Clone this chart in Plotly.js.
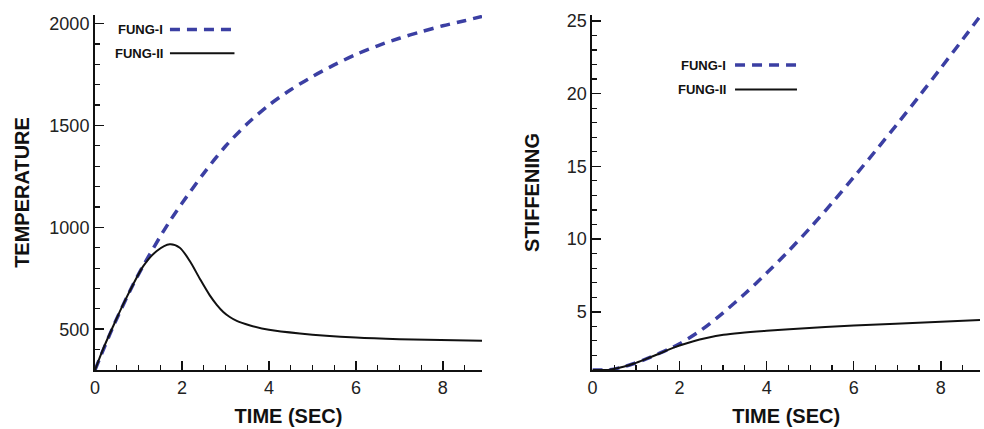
<!DOCTYPE html>
<html>
<head>
<meta charset="utf-8">
<script src="https://cdn.plot.ly/plotly-3.0.1.min.js"></script>
<style>html,body{margin:0;padding:0;background:#fff;}#chart{width:984px;height:429px;}</style>
</head>
<body>
<div id="chart"></div>
<script>
// ---- Data ----
const seriesNames = ["FUNG-I", "FUNG-II"];

// Left panel: TEMPERATURE vs TIME (SEC)
const tempTime1 = [0, 0.42, 0.88, 1.1, 1.26, 1.5, 1.75, 2.0, 2.5, 3.0, 3.5, 4.0, 4.5, 5.0, 5.5, 6.0, 6.5, 7.0, 7.5, 8.0, 8.5, 8.9];
const tempFung1 = [300, 514, 721, 808, 868, 955, 1040, 1118, 1265, 1398, 1508, 1600, 1675, 1740, 1797, 1848, 1891, 1928, 1960, 1989, 2014, 2035];
const tempTime2 = [0, 0.19, 0.42, 0.65, 0.88, 1.11, 1.42, 1.72, 1.95, 2.18, 2.41, 2.64, 2.8, 2.95, 3.1, 3.26, 3.55, 4.0, 4.71, 6.0, 7.0, 8.9];
const tempFung2 = [300, 405, 516, 623, 721, 810, 884, 917, 900, 835, 748, 666, 620, 585, 560, 541, 520, 497, 479, 459, 451, 443];

// Right panel: STIFFENING vs TIME (SEC)
const stiffTime1 = [0, 0.4, 0.71, 0.94, 1.25, 1.5, 1.75, 2.0, 2.5, 3.0, 3.5, 4.0, 4.5, 5.0, 5.5, 6.0, 6.5, 7.0, 7.5, 8.0, 8.5, 8.9];
const stiffFung1 = [1.0, 1.02, 1.22, 1.43, 1.78, 2.1, 2.43, 2.8, 3.75, 4.93, 6.24, 7.66, 9.17, 10.77, 12.47, 14.25, 16.06, 17.91, 19.81, 21.75, 23.71, 25.3];
const stiffTime2 = [0, 0.4, 0.71, 0.94, 1.25, 1.5, 1.75, 2.0, 2.32, 2.62, 3.01, 3.39, 4.0, 4.52, 6.0, 8.0, 8.9];
const stiffFung2 = [1.0, 1.02, 1.22, 1.43, 1.78, 2.08, 2.4, 2.68, 2.98, 3.2, 3.42, 3.55, 3.70, 3.80, 4.06, 4.31, 4.43];

// Axis labels
const xTitle = "TIME (SEC)";
const yTitleLeft = "TEMPERATURE";
const yTitleRight = "STIFFENING";

// ---- Styles ----
const FONT = "Liberation Sans, Arial, Helvetica, sans-serif";
const BLUE = "#3b3fa3";
const dashStyle = {color: BLUE, width: 3.5, dash: "10px,7px"};
const solidStyle = {color: "#111111", width: 2};
const curve = {shape: "spline", smoothing: 0.8};

const traces = [
  {x: tempTime1, y: tempFung1, name: seriesNames[0], mode: "lines", line: Object.assign({}, curve, dashStyle), xaxis: "x", yaxis: "y"},
  {x: tempTime2, y: tempFung2, name: seriesNames[1], mode: "lines", line: Object.assign({}, curve, solidStyle), xaxis: "x", yaxis: "y"},
  {x: stiffTime1, y: stiffFung1, name: seriesNames[0], mode: "lines", line: Object.assign({}, curve, dashStyle), xaxis: "x2", yaxis: "y2"},
  {x: stiffTime2, y: stiffFung2, name: seriesNames[1], mode: "lines", line: Object.assign({}, curve, solidStyle), xaxis: "x2", yaxis: "y2"}
];

function axisBase(extra) {
  return Object.assign({
    showgrid: false, zeroline: false,
    showline: true, linecolor: "#111", linewidth: 2,
    ticks: "inside", ticklen: 9, tickwidth: 1.5, tickcolor: "#111",
    tickfont: {family: FONT, size: 18, color: "#222"},
    fixedrange: true
  }, extra);
}
function minorTicks(step) {
  return {dtick: step, ticks: "inside", ticklen: 5, tickwidth: 1.2, tickcolor: "#111", showgrid: false};
}
const titleFont = {family: FONT, size: 20, color: "#111", weight: "bold"};
const legendFont = {family: FONT, size: 13, color: "#111"};

const layout = {
  width: 984, height: 429,
  margin: {l: 95, r: 4, t: 15, b: 59},
  paper_bgcolor: "#fff", plot_bgcolor: "#fff",
  showlegend: false,
  font: {family: FONT},
  xaxis: axisBase({domain: [0, 0.4373], range: [0, 8.9], dtick: 2, tick0: 0, minor: minorTicks(0.5),
    title: {text: xTitle, font: titleFont, standoff: 12}, anchor: "y"}),
  yaxis: axisBase({domain: [0, 1], range: [300, 2042], dtick: 500, tick0: 0, minor: minorTicks(100),
    title: {text: yTitleLeft, font: titleFont, standoff: 14}, anchor: "x"}),
  xaxis2: axisBase({domain: [0.5621, 1], range: [0, 8.9], dtick: 2, tick0: 0, minor: minorTicks(0.5),
    title: {text: xTitle, font: titleFont, standoff: 12}, anchor: "y2"}),
  yaxis2: axisBase({domain: [0, 1], range: [1, 25.4], dtick: 5, tick0: 0, minor: minorTicks(1),
    title: {text: yTitleRight, font: titleFont, standoff: 22}, anchor: "x2"}),
  annotations: [
    {xref: "paper", yref: "paper", x: 0.0791, y: 0.9592, xanchor: "right", yanchor: "middle", showarrow: false, text: "<b>" + seriesNames[0] + "</b>", font: legendFont},
    {xref: "paper", yref: "paper", x: 0.0791, y: 0.8921, xanchor: "right", yanchor: "middle", showarrow: false, text: "<b>" + seriesNames[1] + "</b>", font: legendFont},
    {xref: "paper", yref: "paper", x: 0.7158, y: 0.859, xanchor: "right", yanchor: "middle", showarrow: false, text: "<b>" + seriesNames[0] + "</b>", font: legendFont},
    {xref: "paper", yref: "paper", x: 0.7158, y: 0.790, xanchor: "right", yanchor: "middle", showarrow: false, text: "<b>" + seriesNames[1] + "</b>", font: legendFont}
  ],
  shapes: [
    {type: "line", xref: "paper", yref: "paper", x0: 0.0847, x1: 0.1576, y0: 0.9592, y1: 0.9592, line: dashStyle},
    {type: "line", xref: "paper", yref: "paper", x0: 0.0847, x1: 0.1576, y0: 0.8921, y1: 0.8921, line: solidStyle},
    {type: "line", xref: "paper", yref: "paper", x0: 0.7232, x1: 0.7932, y0: 0.859, y1: 0.859, line: dashStyle},
    {type: "line", xref: "paper", yref: "paper", x0: 0.7232, x1: 0.7932, y0: 0.790, y1: 0.790, line: solidStyle}
  ]
};

Plotly.newPlot("chart", traces, layout, {displayModeBar: false, staticPlot: true});
</script>
</body>
</html>
